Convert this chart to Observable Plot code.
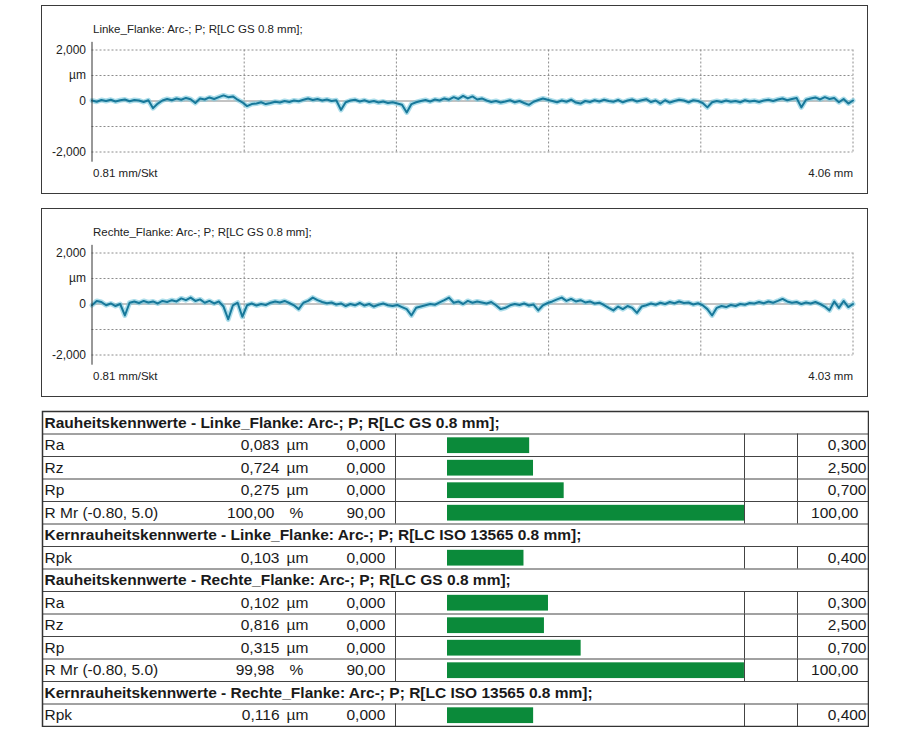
<!DOCTYPE html>
<html><head><meta charset="utf-8">
<script src="https://cdn.jsdelivr.net/npm/d3@7"></script>
<script src="https://cdn.jsdelivr.net/npm/@observablehq/plot@0.6"></script>
<style>
body{margin:0;background:#fff;font-family:"Liberation Sans",Arial,sans-serif;}
#page{position:relative;width:917px;height:735px;background:#fff;}
.panel{position:absolute;left:41px;width:825px;height:187px;border:1.5px solid #3a3a3a;}
.panel svg, #tbl svg{display:block;}
#tbl{position:absolute;left:41px;top:410px;}
</style></head><body><div id="page">
<div class="panel" id="p1" style="top:5px"></div>
<div class="panel" id="p2" style="top:208px"></div>
<div id="tbl"></div>
</div>
<script>
// ---- profile data (µm), sampled every 0.025 mm ----
const sampleStep = 0.025;
const mmPerDiv = 0.81;
const divisions = 5;
const linkeProfile = [
 0.02,-0.03,0.04,0.0,0.05,-0.02,0.03,0.06,-0.01,0.04,0.02,-0.04,0.03,
 -0.28,-0.1,0.02,0.08,0.03,0.1,0.05,0.12,0.07,-0.08,0.1,0.06,0.14,
 0.08,0.15,0.22,0.15,0.18,0.05,-0.05,-0.2,-0.12,
 -0.1,-0.05,-0.12,-0.08,-0.03,-0.06,0.0,-0.04,0.02,-0.01,
 0.05,0.1,0.04,0.08,0.02,0.06,0.0,0.03,
 -0.35,-0.05,
 0.02,0.05,-0.02,0.03,-0.04,0.0,-0.06,-0.02,-0.08,-0.05,-0.1,
 -0.15,-0.45,-0.12,
 -0.05,0.0,0.04,-0.02,0.06,0.02,0.1,0.05,0.15,
 0.08,0.2,0.1,0.18,0.06,0.1,0.02,
 -0.04,0.0,-0.06,-0.02,0.03,-0.05,0.0,-0.08,-0.15,-0.03,0.04,0.1,0.05,
 0.0,-0.05,0.02,-0.03,0.05,-0.06,-0.1,0.0,-0.04,0.03,-0.02,0.05,0.0,
 -0.03,0.04,-0.05,0.02,0.06,-0.02,0.03,0.07,-0.04,0.02,-0.1,0.03,-0.06,0.0,0.05,
 0.02,-0.05,0.03,0.0,-0.08,-0.25,
 -0.05,0.0,-0.04,0.02,-0.03,0.0,-0.05,0.03,-0.02,0.01,-0.04,0.02,0.05,0.0,
 0.06,0.1,0.03,0.08,0.12,-0.25,0.05,0.1,0.14,0.06,0.15,0.08,0.12,-0.05,0.08,-0.1,0.02
];
const rechteProfile = [
 -0.05,0.12,0.08,-0.05,0.02,-0.08,0.0,-0.45,0.05,0.1,0.04,0.12,0.06,0.1,0.02,0.12,
 0.08,0.15,0.1,0.22,0.15,0.25,0.12,0.18,0.05,0.12,0.02,0.1,-0.1,-0.6,-0.05,0.05,
 -0.5,-0.05,0.02,-0.06,0.0,-0.04,0.05,0.1,0.06,0.12,0.04,-0.05,-0.2,0.05,0.12,0.25,
 0.15,0.08,0.03,0.06,-0.02,0.02,-0.08,0.0,-0.05,0.04,-0.06,0.0,-0.1,-0.03,0.02,-0.05,
 -0.08,-0.04,-0.12,-0.2,-0.45,-0.15,-0.1,-0.05,0.0,-0.03,0.06,0.15,0.25,0.05,0.1,0.0,
 0.12,0.05,0.1,0.06,0.02,0.08,-0.05,-0.2,-0.15,-0.05,0.0,-0.04,0.02,-0.06,-0.02,-0.25,
 -0.05,0.04,0.1,0.18,0.25,0.12,0.2,0.1,0.15,0.06,0.1,0.02,0.05,-0.04,-0.15,-0.25,
 -0.1,-0.2,-0.08,-0.15,-0.35,-0.1,-0.05,0.02,-0.03,0.05,0.0,0.08,0.03,0.1,0.04,0.06,
 -0.02,0.03,-0.05,-0.2,-0.45,-0.15,-0.08,-0.12,-0.04,-0.08,0.0,-0.03,0.04,0.02,0.08,0.03,
 0.1,0.05,0.12,0.2,0.1,0.05,0.08,0.0,0.06,0.02,0.08,0.0,-0.1,-0.25,0.1,-0.15,
 0.12,-0.12,0.0
];
const profileTitles = ["Linke_Flanke: Arc-; P; R[LC GS 0.8 mm];", "Rechte_Flanke: Arc-; P; R[LC GS 0.8 mm];"];
const perDivLabel = "0.81 mm/Skt";
const lengthLabels = ["4.06 mm", "4.03 mm"];
const yTickValues = [2, 1, 0, -2];
const yTickLabels = ["2,000", "µm", "0", "-2,000"];
const gridYValues = [2, 1, -1, -2];

// ---- table data ----
const groupTitles = [
 "Rauheitskennwerte - Linke_Flanke: Arc-; P; R[LC GS 0.8 mm];",
 "Kernrauheitskennwerte - Linke_Flanke: Arc-; P; R[LC ISO 13565 0.8 mm];",
 "Rauheitskennwerte - Rechte_Flanke: Arc-; P; R[LC GS 0.8 mm];",
 "Kernrauheitskennwerte - Rechte_Flanke: Arc-; P; R[LC ISO 13565 0.8 mm];"
];
const paramNames = ["Ra","Rz","Rp","R Mr (-0.80, 5.0)","Rpk","Ra","Rz","Rp","R Mr (-0.80, 5.0)","Rpk"];
const paramGroup = [0,0,0,0,1,2,2,2,2,3];
const paramValues = [0.083,0.724,0.275,100.00,0.103,0.102,0.816,0.315,99.98,0.116];
const paramUnits = ["µm","µm","µm","%","µm","µm","µm","µm","%","µm"];
const lowerLimits = [0,0,0,90,0,0,0,0,90,0];
const upperLimits = [0.3,2.5,0.7,100,0.4,0.3,2.5,0.7,100,0.4];

const font = "Liberation Sans, Arial, sans-serif";
const gridStroke = "#8c8c8c";

function profilePlot(values, title, lengthLabel) {
  const data = values.map((v, i) => ({x: i * sampleStep, y: v}));
  const gridX = d3.range(1, divisions + 1).map(k => k * mmPerDiv);
  return Plot.plot({
    width: 825, height: 187,
    marginLeft: 49.5, marginRight: 14.5, marginTop: 43.5, marginBottom: 41.5,
    x: {domain: [0, divisions * mmPerDiv], axis: null},
    y: {domain: [-2, 2], axis: null},
    style: {fontFamily: font, fontSize: "11.5px", color: "#222", background: "transparent"},
    marks: [
      Plot.ruleY(gridYValues, {stroke: gridStroke, strokeWidth: 1, strokeDasharray: "2,2"}),
      Plot.ruleX(gridX, {y1: -2, y2: 2, stroke: gridStroke, strokeWidth: 1, strokeDasharray: "2,2"}),
      Plot.ruleY([0], {stroke: "#6a6a6a", strokeWidth: 0.8}),
      Plot.line(data, {x: "x", y: "y", stroke: "#74c6dc", strokeWidth: 5, strokeOpacity: 0.6}),
      Plot.line(data, {x: "x", y: "y", stroke: "#17789a", strokeWidth: 2}),
      Plot.ruleX([0], {y1: -2.4, y2: 2.3, stroke: "#333", strokeWidth: 1}),
      Plot.axisY({ticks: yTickValues, tickFormat: d => yTickLabels[yTickValues.indexOf(d)], tickSize: 0, tickPadding: 6, fontSize: 12, label: null}),
      Plot.text([title], {text: d => d, frameAnchor: "top-left", textAnchor: "start", lineAnchor: "middle", dx: 1, dy: -21, fontSize: 11.5}),
      Plot.text([perDivLabel], {text: d => d, frameAnchor: "bottom-left", textAnchor: "start", lineAnchor: "middle", dx: 1, dy: 21, fontSize: 11.5}),
      Plot.text([lengthLabel], {text: d => d, frameAnchor: "bottom-right", textAnchor: "end", lineAnchor: "middle", dy: 21, fontSize: 11.5})
    ]
  });
}

document.getElementById("p1").appendChild(profilePlot(linkeProfile, profileTitles[0], lengthLabels[0]));
document.getElementById("p2").appendChild(profilePlot(rechteProfile, profileTitles[1], lengthLabels[1]));

// ---- table ----
const fmt = (v, d) => v.toFixed(d).replace(".", ",");
const rows = [];
let r = 0;
groupTitles.forEach((t, g) => {
  rows.push({kind: "head", row: r++, text: t});
  paramNames.forEach((n, i) => {
    if (paramGroup[i] === g) {
      const pct = paramUnits[i] === "%";
      const dec = pct ? 2 : 3;
      rows.push({
        kind: "param", row: r++, name: n, pct,
        value: fmt(paramValues[i], dec), unit: paramUnits[i],
        lower: fmt(lowerLimits[i], dec), upper: fmt(upperLimits[i], dec),
        frac: paramValues[i] / upperLimits[i]
      });
    }
  });
});
const heads = rows.filter(d => d.kind === "head");
const params = rows.filter(d => d.kind === "param");
const umRows = params.filter(d => !d.pct);
const pctRows = params.filter(d => d.pct);
const nRows = rows.length;
const mid = d => d.row + 0.5;
const fs = 15.5;

const tbl = Plot.plot({
  width: 828, height: 317,
  marginLeft: 1, marginRight: 1, marginTop: 1, marginBottom: 1,
  x: {domain: [0, 1], range: [406, 703], axis: null},
  y: {domain: [0, nRows], reverse: true, axis: null},
  style: {fontFamily: font, fontSize: "15.5px", color: "#1a1a1a", background: "transparent"},
  marks: [
    Plot.rect(params, {x1: 0, x2: "frac", y1: d => d.row + 0.17, y2: d => d.row + 0.87, fill: "#0b8a3a"}),
    Plot.ruleY(d3.range(1, nRows), {stroke: "#444", strokeWidth: 1}),
    Plot.ruleX(params, {x: 0, dx: -52, y1: d => d.row, y2: d => d.row + 1, stroke: "#444", strokeWidth: 1}),
    Plot.ruleX(params, {x: 1, y1: d => d.row, y2: d => d.row + 1, stroke: "#444", strokeWidth: 1}),
    Plot.ruleX(params, {x: 1, dx: 53, y1: d => d.row, y2: d => d.row + 1, stroke: "#444", strokeWidth: 1}),
    Plot.frame({stroke: "#333", strokeWidth: 1.5}),
    Plot.text(heads, {y: mid, text: "text", frameAnchor: "left", textAnchor: "start", lineAnchor: "middle", dx: 2, fontWeight: "bold", fontSize: fs}),
    Plot.text(params, {y: mid, text: "name", frameAnchor: "left", textAnchor: "start", lineAnchor: "middle", dx: 2, fontSize: fs}),
    Plot.text(umRows, {y: mid, text: "value", frameAnchor: "left", textAnchor: "end", lineAnchor: "middle", dx: 237, fontSize: fs}),
    Plot.text(pctRows, {y: mid, text: "value", frameAnchor: "left", textAnchor: "end", lineAnchor: "middle", dx: 232, fontSize: fs}),
    Plot.text(umRows, {y: mid, text: "unit", frameAnchor: "left", textAnchor: "start", lineAnchor: "middle", dx: 244, fontSize: fs}),
    Plot.text(pctRows, {y: mid, text: "unit", frameAnchor: "left", textAnchor: "start", lineAnchor: "middle", dx: 247, fontSize: fs}),
    Plot.text(params, {y: mid, text: "lower", frameAnchor: "left", textAnchor: "start", lineAnchor: "middle", dx: 304, fontSize: fs}),
    Plot.text(umRows, {y: mid, text: "upper", frameAnchor: "left", textAnchor: "end", lineAnchor: "middle", dx: 824, fontSize: fs}),
    Plot.text(pctRows, {y: mid, text: "upper", frameAnchor: "left", textAnchor: "end", lineAnchor: "middle", dx: 816, fontSize: fs})
  ]
});
document.getElementById("tbl").appendChild(tbl);
</script>
</body></html>
